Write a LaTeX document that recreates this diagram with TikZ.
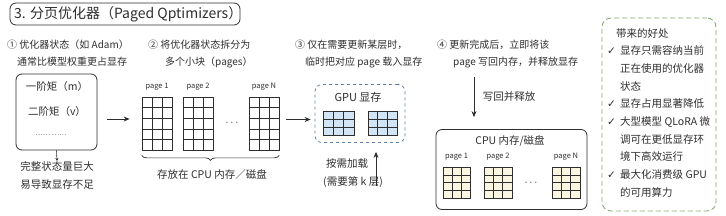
\documentclass[tikz,border=0pt]{standalone}
\usepackage{fontspec}
\setmainfont{Noto Sans CJK SC}
\newfontfamily\symfont{DejaVu Sans}
\usetikzlibrary{arrows.meta, positioning, calc, decorations.pathreplacing}

\definecolor{INKgray}{HTML}{2E2E2E}
\definecolor{GPUblue}{HTML}{5E82AA}
\definecolor{GPUfill}{HTML}{D3E4F5}
\definecolor{CPUfill}{HTML}{FBF6E2}
\definecolor{BENgreen}{HTML}{84AE72}

\newcommand\chk{\makebox[13pt][l]{\symfont ✓}}
\newcommand\ind{\hspace*{13pt}}

\tikzset{
  grid cols/.store in=\gridcols,
  grid rows/.store in=\gridrows,
  grid cols=3, grid rows=5,
  pagegrid/.style={draw=INKgray, line width=0.7pt, inner sep=0pt, fill=white,
    path picture={
      \coordinate (gsw) at (path picture bounding box.south west);
      \coordinate (gne) at (path picture bounding box.north east);
      \pgfmathtruncatemacro\gridcolsm{\gridcols-1}
      \pgfmathtruncatemacro\gridrowsm{\gridrows-1}
      \foreach \k in {1,...,\gridcolsm}
        \draw[INKgray, line width=0.5pt] ($(gsw)!{\k/\gridcols}!(gsw-|gne)$) -- ($(gsw|-gne)!{\k/\gridcols}!(gne)$);
      \foreach \k in {1,...,\gridrowsm}
        \draw[INKgray, line width=0.5pt] ($(gsw)!{\k/\gridrows}!(gsw|-gne)$) -- ($(gsw-|gne)!{\k/\gridrows}!(gne)$);
    }},
  bodytext/.style={inner sep=0pt, font=\fontsize{10.5}{18}\selectfont},
  steptext/.style={align=left, inner sep=0pt, anchor=north west, font=\fontsize{10}{17}\selectfont},
  pagelabel/.style={inner sep=0pt, font=\fontsize{7.5}{9}\selectfont},
  flow/.style={draw=INKgray, line width=0.8pt, -{Stealth[length=6pt, width=5pt]}},
  softbox/.style={draw=INKgray, line width=0.8pt, rounded corners=6pt, inner sep=0pt},
  gpubox/.style={draw=GPUblue, dashed, line width=0.8pt, rounded corners=7pt},
  benefitbox/.style={draw=BENgreen, dash pattern=on 5pt off 3pt, line width=0.9pt, rounded corners=9pt},
  brace/.style={draw=INKgray, line width=0.7pt, decorate, decoration={brace, mirror, amplitude=5pt}}
}

\begin{document}
\begin{tikzpicture}[x=1pt, y=-1pt, text=INKgray]
  \useasboundingbox (0,0) rectangle (726,215);

  % title
  \node[softbox, minimum width=230pt, minimum height=22pt] (title) at (125,14) {};
  \node[inner sep=0pt, anchor=west, font=\fontsize{14}{16}\selectfont] (titleText) at (14,14) {3. 分页优化器（Paged Qptimizers）};

  % step texts
  \node[steptext] (step1) at (7,40) {① 优化器状态（如 Adam）\\ \hspace*{10pt}通常比模型权重更占显存};
  \node[steptext] (step2) at (148,40) {② 将优化器状态拆分为\\ \hspace*{17pt}多个小块（pages）};
  \node[steptext] (step3) at (295,40) {③ 仅在需要更新某层时，\\ \hspace*{10pt}临时把对应 page 载入显存};
  \node[steptext] (step4) at (437,40) {④ 更新完成后，立即将该\\ \hspace*{16pt}page 写回内存，并释放显存};

  % optimizer state
  \node[softbox, minimum width=81pt, minimum height=76pt] (stateBox) at (56.5,112) {};
  \node[bodytext] (mom1) at (57,87) {一阶矩（m）};
  \node[bodytext] (mom2) at (57,112) {二阶矩（v）};
  \node[bodytext, font=\fontsize{7}{8}\selectfont] (momDots) at (51,135) {…… ……};
  \node[bodytext, align=left, anchor=north] (stateNote) at (57,161) {完整状态量巨大\\易导致显存不足};
  \draw[INKgray, line width=0.6pt, -{Stealth[length=3pt, width=3pt]}] (stateBox.south) -- (stateNote.north);

  % pages in CPU memory
  \node[pagegrid, minimum width=30pt, minimum height=53pt] (p1) at (157,123.5) {};
  \node[pagegrid, minimum width=30pt, minimum height=53pt] (p2) at (198,123.5) {};
  \node[pagegrid, minimum width=30pt, minimum height=53pt] (pN) at (264,123.5) {};
  \node[pagelabel, above=6pt of p1] (p1Label) {page 1};
  \node[pagelabel, above=6pt of p2] (p2Label) {page 2};
  \node[pagelabel, above=6pt of pN] (pNLabel) {page N};
  \node[bodytext] (pDots) at (232,123) {$\cdots$};
  \draw[brace] ([yshift=-5pt]p1.south west) -- ([yshift=-5pt]pN.south east);
  \node[bodytext] (cpuNote) at (212,174) {存放在 CPU 内存／磁盘};
  \draw[flow, shorten <=10pt, shorten >=12pt] ([yshift=-7pt]stateBox.east) -- ([yshift=-7pt]stateBox.east -| p1.west);

  % GPU memory
  \node[gpubox, minimum width=90pt, minimum height=58pt] (gpuBox) at (360,113.5) {};
  \node[bodytext, font=\fontsize{11}{13}\selectfont] (gpuTitle) at (358,97) {GPU 显存};
  \node[pagegrid, grid rows=3, fill=GPUfill, minimum width=31pt, minimum height=24pt] (g1) at (338.5,123) {};
  \node[pagegrid, grid rows=3, fill=GPUfill, minimum width=29pt, minimum height=24pt] (g2) at (382.5,123) {};
  \draw[flow, shorten <=7pt, shorten >=4pt] ([yshift=4pt]pN.east) -- ([yshift=4pt]pN.east -| gpuBox.west);

  % load on demand
  \coordinate (loadTail) at (376,186);
  \draw[flow, shorten >=9pt] (loadTail) -- (loadTail |- gpuBox.south);
  \node[bodytext] (loadNote) at (347,163) {按需加载};
  \node[bodytext] (loadLayer) at (353,182) {(需要第 k 层)};

  % write back
  \coordinate (backTail) at (474,77);
  \node[softbox, minimum width=151pt, minimum height=80pt] (cpuBox) at (511.5,169.5) {};
  \draw[flow, shorten >=12pt] (backTail) -- (backTail |- cpuBox.north);
  \node[bodytext] (backNote) at (509,97) {写回并释放};
  \node[bodytext] (cpuTitle) at (510,141) {CPU 内存/磁盘};
  \node[pagegrid, grid rows=4, fill=CPUfill, minimum width=27pt, minimum height=31pt] (c1) at (456.5,182.5) {};
  \node[pagegrid, grid rows=4, fill=CPUfill, minimum width=28pt, minimum height=31pt] (c2) at (498,182.5) {};
  \node[pagegrid, grid rows=4, fill=CPUfill, minimum width=28pt, minimum height=31pt] (cN) at (566,182.5) {};
  \node[pagelabel, above=6pt of c1] (c1Label) {page 1};
  \node[pagelabel, above=6pt of c2] (c2Label) {page 2};
  \node[pagelabel, above=6pt of cN] (cNLabel) {page N};
  \node[bodytext] (cDots) at (531,183) {$\cdots$};

  % benefits
  \node[benefitbox, minimum width=114pt, minimum height=193pt] (benefitBox) at (659,114.5) {};
  \node[steptext, font=\fontsize{10.5}{17.7}\selectfont] (benefitText) at (607,28) {%
    \hspace*{9pt}带来的好处\\
    \chk 显存只需容纳当前\\
    \ind 正在使用的优化器\\
    \ind 状态\\
    \chk 显存占用显著降低\\
    \chk 大型模型 QLoRA 微\\
    \ind 调可在更低显存环\\
    \ind 境下高效运行\\
    \chk 最大化消费级 GPU\\
    \ind 的可用算力};
\end{tikzpicture}
\end{document}
